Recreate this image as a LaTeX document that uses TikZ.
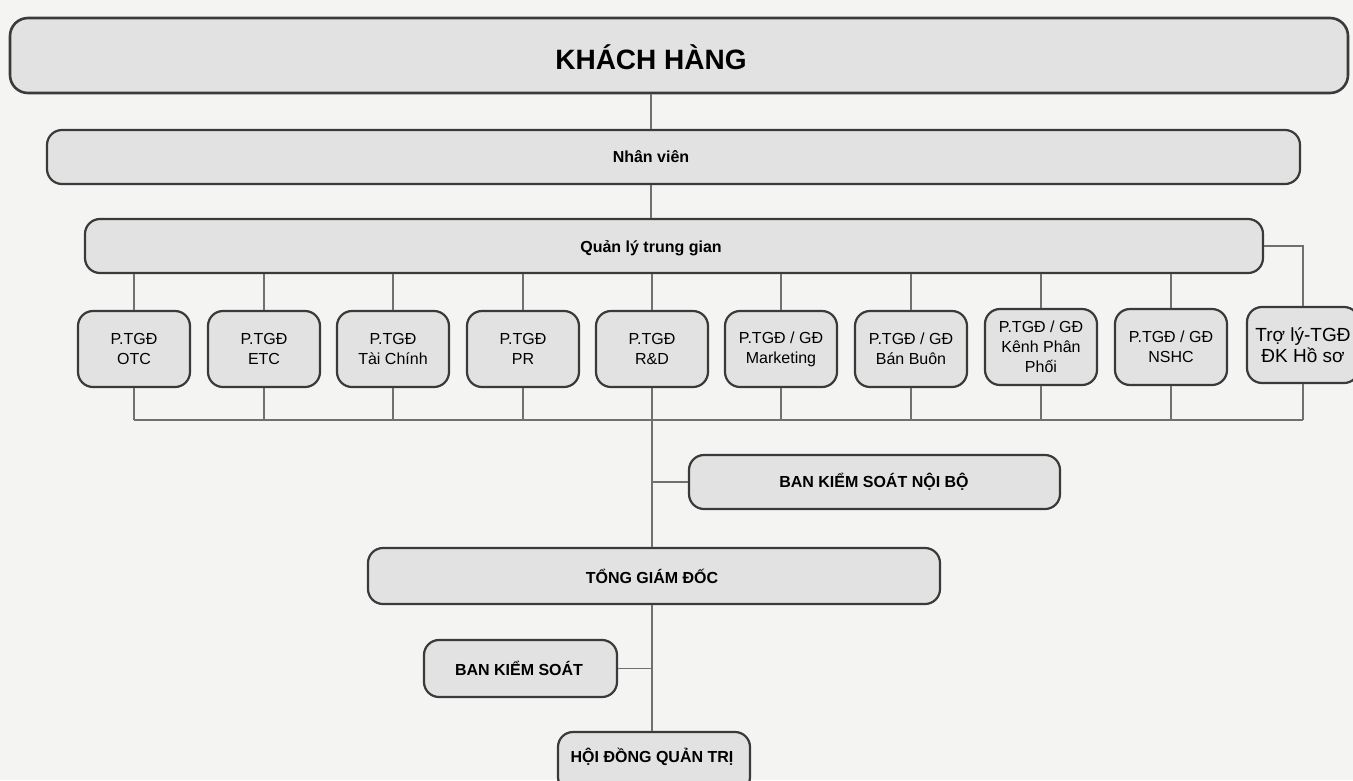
\documentclass[tikz,border=0pt]{standalone}
\usepackage{fontspec}
\setmainfont{Liberation Sans}
\definecolor{boxfill}{HTML}{E2E2E2}
\definecolor{boxline}{HTML}{3A3A3A}
\definecolor{connline}{HTML}{707070}
\definecolor{bgcol}{HTML}{F4F4F2}
\begin{document}
\begin{tikzpicture}[x=1pt,y=-1pt,
  box/.style={draw=boxline, fill=boxfill, line width=2.2pt, rounded corners=15pt, inner sep=0pt},
  kid/.style={box, minimum width=112pt, minimum height=76pt, align=center, font=\fontsize{16}{20}\selectfont},
  lbl/.style={font=\fontsize{16}{20}\selectfont\bfseries, inner sep=0pt},
  conn/.style={draw=connline, line width=1.6pt}]
\useasboundingbox (0,0) rectangle (1353,780);
\fill[bgcol] (0,0) rectangle (1353,780);
\begin{scope}
\clip (0,0) rectangle (1353,780);
% top bands
\node[box, rounded corners=18pt, line width=2.6pt, minimum width=1338pt, minimum height=75pt] (kh) at (679,55.5) {};
\node[font=\fontsize{28}{32}\selectfont\bfseries, inner sep=0pt] (khT) at (651,57) {KHÁCH HÀNG};
\node[box, minimum width=1253pt, minimum height=54pt] (nv) at (673.5,157) {};
\node[lbl] (nvT) at (651,157) {Nhân viên};
\node[box, minimum width=1178pt, minimum height=54pt] (ql) at (674,246) {};
\node[lbl] (qlT) at (651,248) {Quản lý trung gian};
% children
\node[kid] (c1) at (134,349) {P.TGĐ\\OTC};
\node[kid] (c2) at (264,349) {P.TGĐ\\ETC};
\node[kid] (c3) at (393,349) {P.TGĐ\\Tài Chính};
\node[kid] (c4) at (523,349) {P.TGĐ\\PR};
\node[kid] (c5) at (652,349) {P.TGĐ\\R\&D};
\node[kid] (c6) at (781,349) {P.TGĐ / GĐ\\Marketing};
\node[kid] (c7) at (911,349) {P.TGĐ / GĐ\\Bán Buôn};
\node[kid] (c8) at (1041,347) {P.TGĐ / GĐ\\Kênh Phân\\Phối};
\node[kid] (c9) at (1171,347) {P.TGĐ / GĐ\\NSHC};
\node[kid, font=\fontsize{19}{21}\selectfont] (c10) at (1303,345) {Trợ lý-TGĐ\\ĐK Hồ sơ};
% lower boxes
\node[box, minimum width=371pt, minimum height=54pt] (bksnb) at (874.5,482) {};
\node[lbl] (bksnbT) at (874,482) {BAN KIỂM SOÁT NỘI BỘ};
\node[box, minimum width=572pt, minimum height=56pt] (tgd) at (654,576) {};
\node[lbl] (tgdT) at (652,576) {TỔNG GIÁM ĐỐC};
\node[box, minimum width=193pt, minimum height=57pt] (bks) at (520.5,668.5) {};
\node[lbl] (bksT) at (519,668) {BAN KIỂM SOÁT};
\node[box, minimum width=192pt, minimum height=60pt] (hdqt) at (654,762) {};
\node[lbl] (hdqtT) at (652,757) {HỘI ĐỒNG QUẢN TRỊ};
% connectors
\coordinate (bus) at (0,420);
\draw[conn] (khT |- kh.south) -- (khT |- nv.north);
\draw[conn] (khT |- nv.south) -- (khT |- ql.north);
\foreach \c in {c1,c2,c3,c4,c5,c6,c7,c8,c9}{
  \draw[conn] (\c.north |- ql.south) -- (\c.north);
}
\foreach \c in {c1,c2,c3,c4,c5,c6,c7,c8,c9,c10}{
  \draw[conn] (\c.south) -- (\c.south |- bus);
}
\draw[conn] (ql.east) -- (ql.east -| c10.north) -- (c10.north);
\draw[conn] (c1.south |- bus) -- (c10.south |- bus);
\draw[conn] (c5.south |- bus) -- (c5.south |- tgd.north);
\draw[conn] (c5.south |- bksnb.west) -- (bksnb.west);
\draw[conn] (c5.south |- tgd.south) -- (c5.south |- hdqt.north);
\draw[conn] (bks.east) -- (bks.east -| c5.south);
\end{scope}
\end{tikzpicture}
\end{document}
